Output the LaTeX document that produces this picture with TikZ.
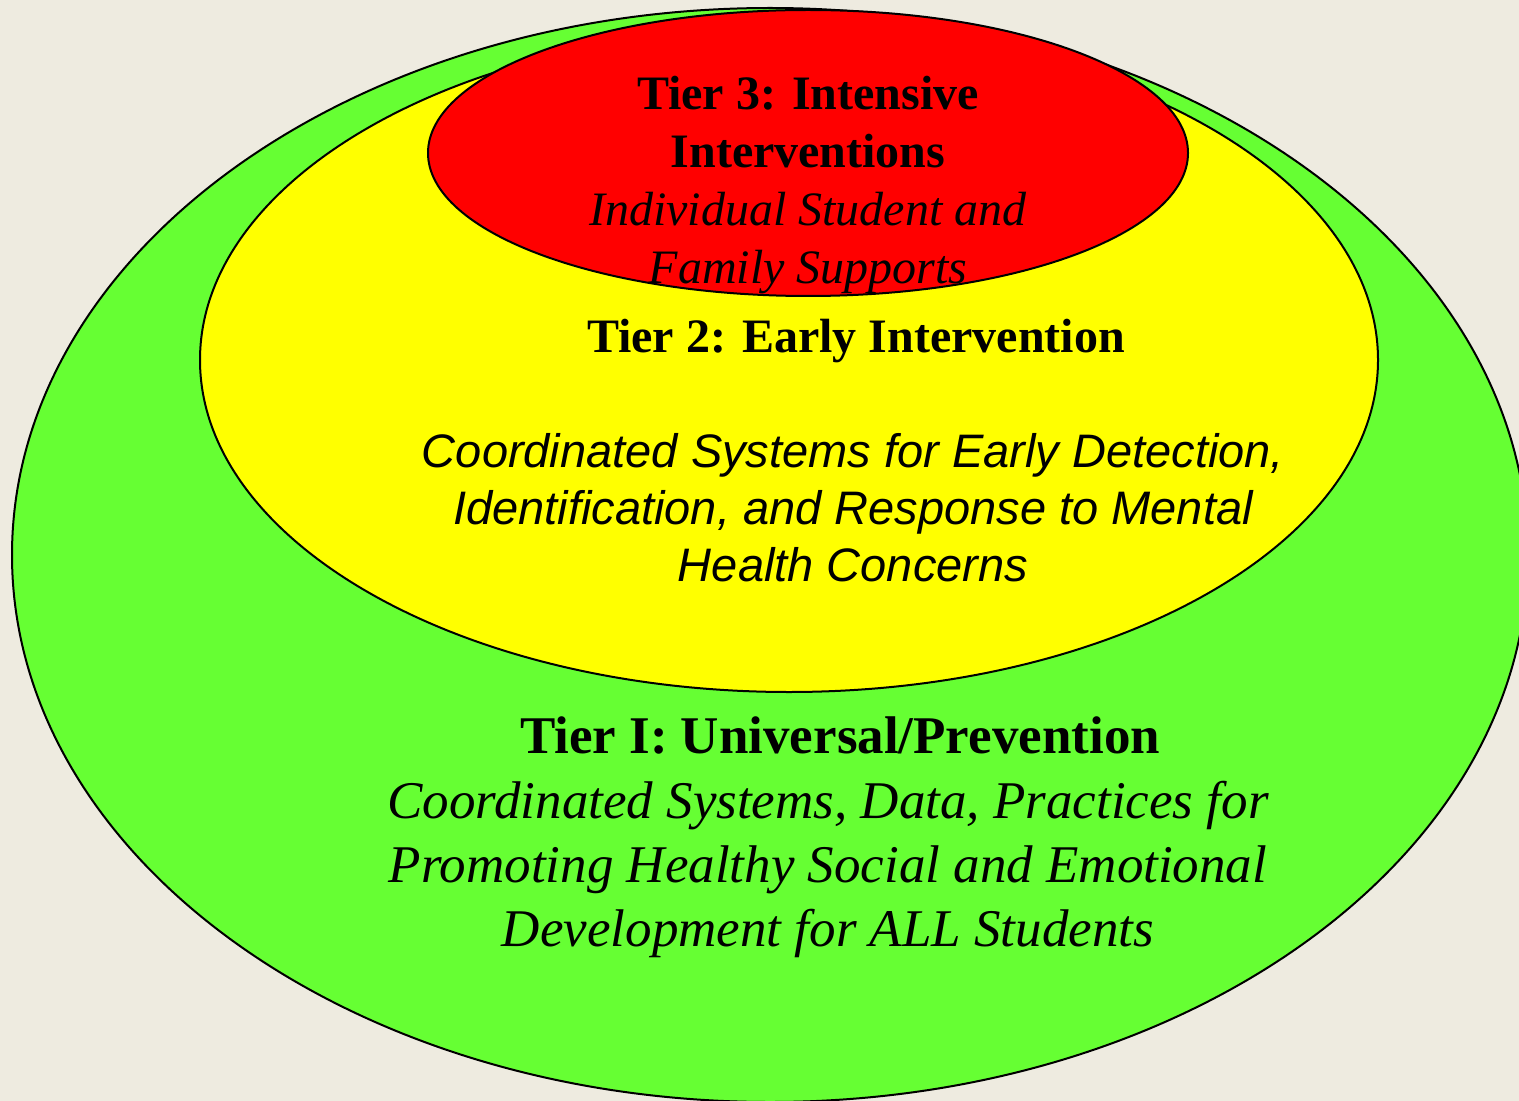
\documentclass[tikz,border=0pt]{standalone}
\usepackage{fontspec}
\setmainfont{Liberation Serif}
\newfontfamily\arialfont{Liberation Sans}
\usetikzlibrary{shapes.geometric}
\definecolor{mybeige}{RGB}{238,235,224}
\definecolor{mygreen}{RGB}{102,255,51}
\definecolor{myyellow}{RGB}{255,255,0}
\definecolor{myred}{RGB}{255,0,0}

\begin{document}
\begin{tikzpicture}[x=0.5pt,y=-0.5pt]

\tikzstyle{tier} = [ellipse, draw=black, line width=1pt, inner sep=0]
\tikzstyle{label} = [align=center, inner sep=0, text=black]

% =========================
% background
% =========================
\fill[mybeige] (0,0) rectangle (1519,1101);
\useasboundingbox (0,0) rectangle (1519,1101);

% =========================
% three tiers - outer to inner
% =========================
\node[tier, fill=mygreen, minimum width=758pt, minimum height=547pt] (tierone) at (770,555) {};
\node[tier, fill=myyellow, minimum width=589pt, minimum height=332pt] (tiertwo) at (789,360) {};
\node[tier, fill=myred, minimum width=380pt, minimum height=143pt] (tierthree) at (808,153) {};

% =========================
% Tier 3 text
% =========================
\node[label, anchor=north, font=\fontsize{24}{29}\selectfont] (threetext) at (808,76)
  {\textbf{Tier 3: Intensive} \\ \textbf{Interventions} \\ \textit{Individual Student and} \\ \textit{Family Supports}};

% =========================
% Tier 2 text
% =========================
\node[label, anchor=base, font=\fontsize{24}{29}\selectfont\bfseries] (twohead) at (856,353) {Tier 2: Early Intervention};
\node[label, anchor=north, font=\fontsize{23.5}{28.5}\selectfont\arialfont\itshape] (twotext) at (853,433)
  {Coordinated Systems for Early Detection, \\ Identification, and Response to Mental \\ Health Concerns};

% =========================
% Tier I text
% =========================
\node[label, anchor=base, font=\fontsize{26.5}{32}\selectfont\bfseries] (onehead) at (840,753) {Tier I: Universal/Prevention};
\node[label, anchor=north, font=\fontsize{26.5}{32}\selectfont\itshape] (onetext) at (828,781)
  {Coordinated Systems, Data, Practices for \\ Promoting Healthy Social and Emotional \\ Development for ALL Students};

\end{tikzpicture}
\end{document}
